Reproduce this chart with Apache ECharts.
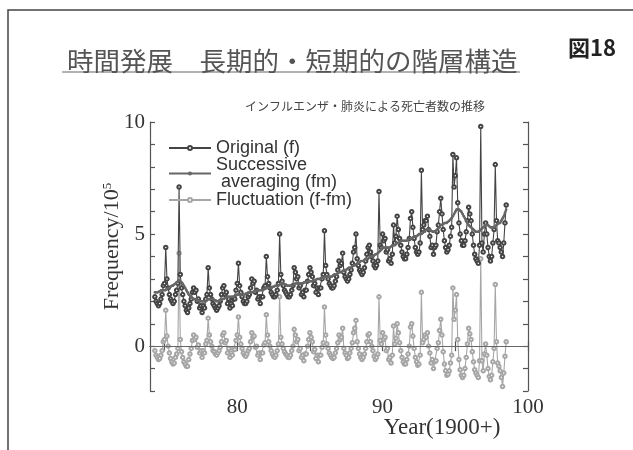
<!DOCTYPE html>
<html><head><meta charset="utf-8">
<script src="https://cdn.jsdelivr.net/npm/echarts@6/dist/echarts.min.js"></script>
<style>html,body{margin:0;padding:0;background:#fff}#c{width:633px;height:450px}</style>
</head><body><div id="c"></div>
<script>
// monthly points, first one at 1974 + 4/12 (years counted as 1900+)
const startYear = 74 + 4 / 12;
const stepYear = 1 / 12;

// Original (f)
const original = [
  2.2, 2.0, 1.9, 1.8, 1.9, 2.1, 2.3, 2.7,                             // 1974 (May-Dec)
  2.8, 4.4, 3.0, 2.6, 2.3, 2.1, 2.0, 1.9, 2.0, 2.3, 2.5, 2.8,         // 1975
  7.1, 3.2, 2.6, 2.3, 2.0, 1.8, 1.6, 1.5, 1.7, 1.9, 2.1, 2.4,         // 1976
  2.6, 2.4, 2.5, 2.0, 2.1, 1.7, 1.8, 1.5, 1.8, 1.7, 2.1, 2.3,         // 1977
  3.5, 2.6, 2.3, 2.1, 1.9, 1.8, 1.7, 1.6, 1.7, 1.8, 2.0, 2.3,         // 1978
  2.6, 2.7, 2.3, 2.4, 1.9, 2.1, 1.7, 1.9, 1.8, 2.1, 2.1, 2.5,         // 1979
  2.8, 3.7, 2.7, 2.4, 2.2, 2.0, 1.9, 1.9, 2.0, 2.2, 2.3, 2.6,         // 1980
  3.0, 2.8, 2.9, 2.4, 2.5, 2.1, 2.2, 1.9, 2.2, 2.2, 2.6, 2.7,         // 1981
  4.0, 3.1, 2.8, 2.6, 2.4, 2.3, 2.2, 2.2, 2.3, 2.5, 2.8, 5.0,         // 1982
  3.2, 2.9, 2.7, 2.5, 2.4, 2.3, 2.2, 2.2, 2.3, 2.5, 2.7, 3.5,         // 1983
  3.3, 3.0, 3.1, 2.6, 2.7, 2.3, 2.4, 2.2, 2.5, 2.5, 2.9, 3.2,         // 1984
  3.5, 3.3, 3.1, 2.7, 2.8, 2.4, 2.6, 2.3, 2.6, 2.6, 3.0, 3.2,         // 1985
  5.15, 3.6, 3.2, 3.0, 2.8, 2.7, 2.6, 2.6, 2.7, 2.9, 3.1, 3.4,        // 1986
  3.8, 3.6, 3.7, 4.15, 3.3, 3.1, 3.0, 2.9, 3.0, 3.2, 3.4, 3.7,        // 1987
  4.2, 4.4, 5.0, 3.9, 3.6, 3.4, 3.3, 3.2, 3.3, 3.5, 3.8, 4.1,         // 1988
  4.4, 4.5, 4.2, 4.0, 3.8, 3.6, 3.5, 3.6, 3.8, 6.9, 4.5, 4.4,         // 1989
  5.0, 4.7, 4.8, 4.2, 4.3, 3.8, 3.9, 3.7, 4.1, 5.4, 4.6, 4.9,         // 1990
  5.8, 5.2, 4.8, 4.5, 4.2, 4.0, 3.9, 3.9, 4.1, 4.4, 4.8, 5.7,         // 1991
  6.0, 5.3, 4.8, 4.4, 4.2, 4.1, 4.2, 4.6, 7.85, 5.2, 5.4, 5.6,        // 1992
  5.6, 5.8, 5.2, 4.9, 4.4, 4.5, 4.1, 4.4, 4.5, 5.1, 5.4, 6.0,         // 1993
  6.6, 5.9, 5.2, 4.7, 4.4, 4.2, 4.3, 4.5, 4.9, 5.3, 8.55, 7.1,        // 1994
  7.6, 8.4, 6.4, 5.5, 5.0, 4.7, 4.5, 4.5, 4.7, 5.1, 5.6, 6.2,         // 1995
  5.9, 5.6, 5.0, 4.5, 4.1, 3.9, 3.8, 3.7, 4.5, 9.8, 4.6, 4.2,         // 1996
  5.0, 5.5, 5.0, 4.4, 4.0, 3.8, 4.0, 4.6, 5.2, 8.1, 5.6, 4.7,         // 1997
  4.6, 4.4, 4.2, 4.0, 4.6, 5.5, 6.3                                   // 1998 (Jan-Jul)
];

// Successive averaging (fm)
const averaging = [
  2.4, 2.4, 2.4, 2.4, 2.45, 2.5, 2.5, 2.5,
  2.5, 2.5, 2.55, 2.6, 2.6, 2.65, 2.7, 2.7, 2.75, 2.8, 2.85, 2.9,
  2.95, 2.9, 2.85, 2.8, 2.7, 2.6, 2.5, 2.4, 2.3, 2.25, 2.2, 2.15,
  2.1, 2.1, 2.1, 2.05, 2.05, 2.0, 2.0, 2.0, 2.0, 2.0, 2.0, 2.05,
  2.1, 2.1, 2.1, 2.1, 2.1, 2.05, 2.05, 2.0, 2.0, 2.0, 2.05, 2.1,
  2.1, 2.1, 2.15, 2.15, 2.2, 2.2, 2.2, 2.2, 2.2, 2.2, 2.25, 2.25,
  2.3, 2.3, 2.3, 2.3, 2.3, 2.3, 2.3, 2.35, 2.35, 2.4, 2.4, 2.4,
  2.4, 2.4, 2.45, 2.45, 2.5, 2.5, 2.5, 2.5, 2.5, 2.5, 2.55, 2.55,
  2.6, 2.6, 2.6, 2.6, 2.6, 2.65, 2.65, 2.7, 2.7, 2.7, 2.7, 2.75,
  2.8, 2.8, 2.8, 2.75, 2.75, 2.7, 2.7, 2.7, 2.7, 2.7, 2.7, 2.75,
  2.8, 2.8, 2.8, 2.8, 2.8, 2.8, 2.8, 2.85, 2.85, 2.85, 2.9, 2.9,
  2.9, 2.9, 2.9, 2.95, 2.95, 2.95, 3.0, 3.0, 3.0, 3.0, 3.05, 3.05,
  3.1, 3.1, 3.1, 3.1, 3.1, 3.1, 3.1, 3.15, 3.2, 3.2, 3.2, 3.25,
  3.3, 3.3, 3.3, 3.35, 3.4, 3.4, 3.4, 3.45, 3.5, 3.5, 3.5, 3.55,
  3.6, 3.6, 3.65, 3.7, 3.7, 3.75, 3.8, 3.8, 3.8, 3.85, 3.9, 3.9,
  3.9, 3.95, 4.0, 4.0, 4.0, 4.05, 4.1, 4.1, 4.15, 4.2, 4.25, 4.3,
  4.4, 4.4, 4.4, 4.4, 4.4, 4.4, 4.4, 4.45, 4.5, 4.5, 4.5, 4.55,
  4.6, 4.6, 4.65, 4.7, 4.7, 4.7, 4.7, 4.7, 4.7, 4.75, 4.8, 4.8,
  4.8, 4.85, 4.9, 4.9, 4.9, 4.95, 5.0, 5.0, 5.0, 5.05, 5.1, 5.1,
  5.2, 5.2, 5.2, 5.2, 5.15, 5.1, 5.1, 5.1, 5.15, 5.2, 5.25, 5.3,
  5.4, 5.4, 5.45, 5.5, 5.5, 5.5, 5.55, 5.6, 5.65, 5.7, 5.8, 5.9,
  6.0, 6.1, 6.1, 6.1, 6.05, 6.0, 5.9, 5.8, 5.7, 5.6, 5.5, 5.4,
  5.35, 5.3, 5.25, 5.2, 5.15, 5.1, 5.1, 5.1, 5.15, 5.2, 5.25, 5.3,
  5.35, 5.4, 5.4, 5.4, 5.35, 5.3, 5.3, 5.3, 5.3, 5.35, 5.4, 5.45,
  5.5, 5.5, 5.6, 5.7, 5.8, 5.95, 6.1
];

// Fluctuation (f-fm)
const fluctuation = [
  -0.2, -0.4, -0.5, -0.6, -0.55, -0.4, -0.2, 0.2,
  0.3, 1.6, 0.45, 0.0, -0.3, -0.55, -0.7, -0.8, -0.75, -0.5, -0.35, -0.1,
  4.15, 0.3, -0.25, -0.5, -0.7, -0.8, -0.9, -0.9, -0.6, -0.35, -0.1, 0.25,
  0.5, 0.3, 0.4, -0.05, 0.05, -0.3, -0.2, -0.5, -0.2, -0.3, 0.1, 0.25,
  1.25, 0.5, 0.2, 0.0, -0.2, -0.25, -0.35, -0.4, -0.3, -0.2, -0.05, 0.2,
  0.5, 0.6, 0.15, 0.25, -0.3, -0.1, -0.5, -0.3, -0.4, -0.1, -0.15, 0.25,
  0.5, 1.3, 0.4, 0.1, -0.1, -0.3, -0.4, -0.45, -0.35, -0.2, -0.1, 0.2,
  0.6, 0.4, 0.45, -0.05, 0.0, -0.4, -0.3, -0.6, -0.3, -0.3, 0.05, 0.15,
  1.4, 0.5, 0.2, 0.0, -0.2, -0.35, -0.45, -0.5, -0.4, -0.2, 0.1, 2.2,
  0.4, 0.1, -0.1, -0.25, -0.35, -0.4, -0.5, -0.5, -0.4, -0.2, 0.0, 0.75,
  0.5, 0.2, 0.3, -0.2, -0.1, -0.5, -0.4, -0.65, -0.35, -0.35, 0.0, 0.3,
  0.6, 0.4, 0.2, -0.25, -0.15, -0.55, -0.4, -0.7, -0.4, -0.4, -0.05, 0.15,
  1.75, 0.5, 0.1, -0.1, -0.3, -0.4, -0.5, -0.55, -0.5, -0.3, -0.1, 0.15,
  0.5, 0.3, 0.4, 0.8, -0.1, -0.3, -0.4, -0.55, -0.5, -0.3, -0.1, 0.15,
  0.6, 0.8, 1.15, 0.2, -0.1, -0.35, -0.5, -0.6, -0.5, -0.35, -0.1, 0.2,
  0.5, 0.55, 0.2, 0.0, -0.2, -0.45, -0.6, -0.5, -0.35, 2.2, 0.25, 0.1,
  0.6, 0.3, 0.4, -0.2, -0.1, -0.6, -0.5, -0.75, -0.4, 0.9, 0.1, 0.35,
  1.0, 0.6, 0.15, -0.2, -0.5, -0.7, -0.8, -0.8, -0.6, -0.35, 0.0, 0.85,
  1.0, 0.45, -0.1, -0.5, -0.7, -0.85, -0.8, -0.4, 2.4, 0.15, 0.3, 0.5,
  0.4, 0.6, 0.0, -0.3, -0.75, -0.6, -1.0, -0.7, -0.65, -0.1, 0.15, 0.7,
  1.2, 0.5, -0.25, -0.8, -1.1, -1.3, -1.25, -1.1, -0.75, -0.4, 2.6, 1.2,
  1.6, 2.3, 0.3, -0.6, -1.05, -1.3, -1.4, -1.3, -1.0, -0.5, 0.1, 0.8,
  0.55, 0.3, -0.25, -0.7, -1.05, -1.2, -1.3, -1.4, -0.65, 3.9, -0.65, -1.1,
  -0.35, 0.1, -0.4, -1.0, -1.35, -1.5, -1.3, -0.7, -0.1, 2.75, 0.2, -0.75,
  -0.9, -1.1, -1.4, -1.8, -1.2, -0.45, 0.2
];

const seriesNames = ['Original (f)', 'Successive averaging (fm)', 'Fluctuation (f-fm)'];
const xTickValues = [75, 80, 85, 90, 95, 100];
const xLabelValues = [80, 90, 100];
const yLabelValues = [0, 5, 10];

const SERIF = '"Liberation Serif", "DejaVu Serif", serif';
const SANS = '"Liberation Sans", Arial, sans-serif';
const CJK = '"Noto Sans CJK JP", sans-serif';

function pairs(arr) { return arr.map((v, i) => [startYear + i * stepYear, v]); }

const chart = echarts.init(document.getElementById('c'), null, { renderer: 'canvas' });

const axisLineStyle = { color: '#555', width: 1.2 };
const legendText = { fontFamily: SANS, fontSize: 18, color: '#333' };
const legendBase = { left: 163, itemWidth: 42, itemHeight: 5, selectedMode: false };

chart.setOption({
  animation: false,
  backgroundColor: '#fff',
  title: [
    { text: '時間発展　長期的・短期的の階層構造', left: 62, top: 43,
      textStyle: { fontFamily: CJK, fontSize: 26.5, fontWeight: 'normal', color: '#555' } },
    { text: '図18', left: 563, top: 32,
      textStyle: { fontFamily: CJK, fontSize: 22, fontWeight: 'bold', color: '#222' } },
    { text: 'インフルエンザ・肺炎による死亡者数の推移', left: 240, top: 95,
      textStyle: { fontFamily: CJK, fontSize: 12, fontWeight: 'normal', color: '#444' } }
  ],
  graphic: [
    { type: 'polyline', shape: { points: [[8, 450], [8, 10], [633, 10]] },
      style: { stroke: '#444', lineWidth: 1.5, fill: null } },
    { type: 'line', shape: { x1: 62, y1: 72, x2: 520, y2: 72 },
      style: { stroke: '#666', lineWidth: 1.2 } }
  ],
  legend: [
    Object.assign({ data: [seriesNames[0]], top: 134, textStyle: legendText }, legendBase),
    Object.assign({ data: [seriesNames[1]], top: 143,
      formatter: () => 'Successive\n averaging (fm)',
      textStyle: Object.assign({ lineHeight: 17, padding: [17, 0, 0, 0] }, legendText) }, legendBase),
    Object.assign({ data: [seriesNames[2]], top: 186, textStyle: legendText }, legendBase)
  ],
  grid: { left: 150, right: 105, top: 122, bottom: 59, containLabel: false },
  xAxis: [
    { type: 'value', min: 74, max: 100, position: 'bottom',
      axisLine: { show: true, lineStyle: axisLineStyle },
      axisTick: { show: true, inside: true, length: 5, customValues: xTickValues, lineStyle: axisLineStyle },
      axisLabel: { customValues: xLabelValues, margin: 6, fontFamily: SERIF, fontSize: 21, color: '#333' },
      splitLine: { show: false },
      name: 'Year(1900+)', nameLocation: 'middle', nameGap: 25, nameMoveOverlap: false,
      nameTextStyle: { fontFamily: SERIF, fontSize: 23, color: '#333', padding: [0, 0, 0, 206] } },
    { type: 'value', min: 74, max: 100, position: 'top',
      axisLine: { show: true, lineStyle: axisLineStyle },
      axisTick: { show: true, inside: true, length: 5, customValues: xTickValues, lineStyle: axisLineStyle },
      axisLabel: { show: false }, splitLine: { show: false } }
  ],
  yAxis: [
    { type: 'value', min: -2, max: 10, interval: 1, position: 'left',
      axisLine: { show: true, lineStyle: axisLineStyle },
      axisTick: { show: true, inside: true, length: 5, lineStyle: axisLineStyle },
      axisLabel: { customValues: yLabelValues, margin: 5, fontFamily: SERIF, fontSize: 21, color: '#333' },
      splitLine: { show: false },
      name: 'Frequency/10{sup|5}', nameLocation: 'middle', nameGap: 27, nameMoveOverlap: false,
      nameTextStyle: { fontFamily: SERIF, fontSize: 22, color: '#333', padding: [0, 0, 0, 20],
        rich: { sup: { fontFamily: SERIF, fontSize: 13, verticalAlign: 'top', color: '#333' } } } },
    { type: 'value', min: -2, max: 10, interval: 1, position: 'right',
      axisLine: { show: true, lineStyle: axisLineStyle },
      axisTick: { show: true, inside: true, length: 5, lineStyle: axisLineStyle },
      axisLabel: { show: false }, splitLine: { show: false } }
  ],
  series: [
    { name: seriesNames[2], type: 'line', xAxisIndex: 0, yAxisIndex: 0, data: pairs(fluctuation),
      color: '#a6a6a6', symbol: 'emptyCircle', symbolSize: 3.5, z: 1,
      lineStyle: { width: 1.1, color: '#a6a6a6' }, itemStyle: { color: '#a6a6a6', borderWidth: 1 },
      markLine: { silent: true, symbol: 'none', label: { show: false },
        lineStyle: { color: '#666', width: 1.2, type: 'solid' }, data: [{ yAxis: 0 }] } },
    { name: seriesNames[0], type: 'line', xAxisIndex: 0, yAxisIndex: 0, data: pairs(original),
      color: '#444', symbol: 'emptyCircle', symbolSize: 3.5, z: 2,
      lineStyle: { width: 1.1, color: '#444' }, itemStyle: { color: '#444', borderWidth: 1 } },
    { name: seriesNames[1], type: 'line', xAxisIndex: 0, yAxisIndex: 0, data: pairs(averaging),
      color: '#666', symbol: 'circle', symbolSize: 2.5, z: 3,
      lineStyle: { width: 2.2, color: '#666' }, itemStyle: { color: '#666' } }
  ]
});
</script></body></html>
